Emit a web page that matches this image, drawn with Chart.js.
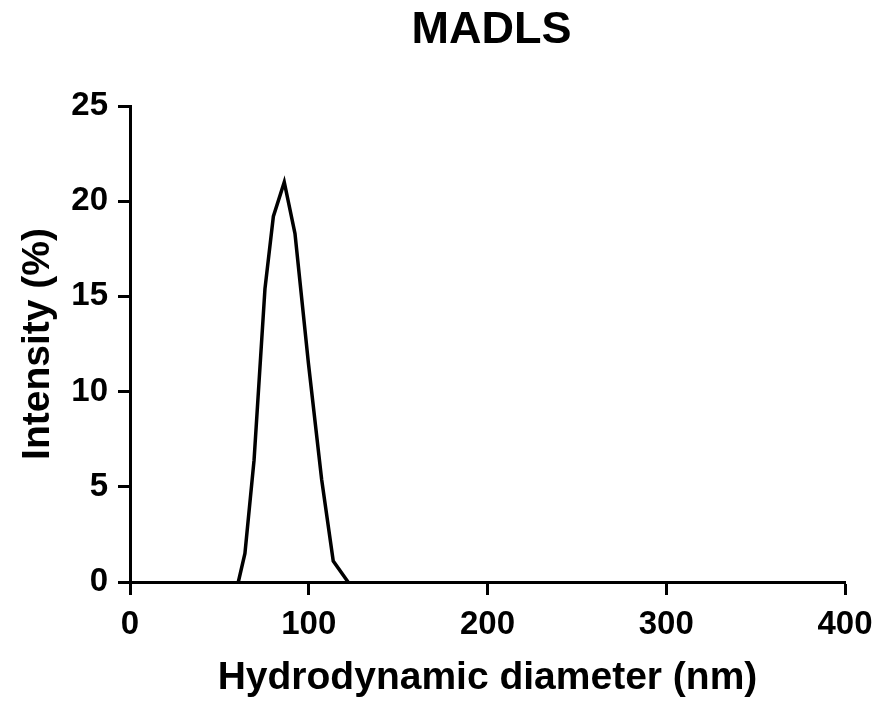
<!DOCTYPE html>
<html>
<head>
<meta charset="utf-8">
<script src="https://cdn.jsdelivr.net/npm/chart.js@4"></script>
<style>
  html, body { margin: 0; padding: 0; background: #fff; }
  #wrap { width: 887px; height: 703px; }
</style>
</head>
<body>
<div id="wrap"><canvas id="madls" width="887" height="703"></canvas></div>
<script>
// Datos
const diameters = [60.6, 64.3, 69.4, 75.5, 80.2, 86.3, 92.3, 99.8, 107.2, 113.7, 122.0];
const intensity = [0, 1.5, 6.4, 15.4, 19.2, 21.0, 18.3, 11.5, 5.4, 1.1, 0];
const xTicks = [0, 100, 200, 300, 400];
const yTicks = [0, 5, 10, 15, 20, 25];

const FONT = '"Liberation Sans", Arial, sans-serif';

// Título dibujado sobre el área del gráfico
const titlePlugin = {
  id: 'madlsTitle',
  afterDraw(chart) {
    const ctx = chart.ctx;
    const area = chart.chartArea;
    ctx.save();
    ctx.fillStyle = '#000';
    ctx.font = 'bold 45px ' + FONT;
    ctx.textAlign = 'center';
    ctx.textBaseline = 'alphabetic';
    ctx.fillText('MADLS', (area.left + area.right) / 2 + 4, 43);
    ctx.restore();
  }
};

const points = diameters.map((d, i) => ({ x: d, y: intensity[i] }));

new Chart(document.getElementById('madls').getContext('2d'), {
  type: 'scatter',
  data: {
    datasets: [{
      data: points,
      showLine: true,
      borderColor: '#000',
      borderWidth: 3.5,
      pointRadius: 0,
      tension: 0
    }]
  },
  options: {
    responsive: false,
    animation: false,
    devicePixelRatio: 1,
    layout: { padding: { top: 106, right: 42, bottom: 0, left: 0 } },
    plugins: {
      legend: { display: false },
      tooltip: { enabled: false }
    },
    scales: {
      x: {
        type: 'linear',
        min: 0,
        max: 400,
        afterFit(scale) { scale.height = 121; },
        afterBuildTicks(scale) { scale.ticks = xTicks.map(v => ({ value: v })); },
        grid: { drawOnChartArea: false, drawTicks: true, tickLength: 13, tickWidth: 3, tickColor: '#000' },
        border: { display: true, color: '#000', width: 3 },
        ticks: { color: '#000', padding: 10, maxRotation: 0, font: { family: FONT, size: 33, weight: 'bold' } },
        title: {
          display: true,
          text: 'Hydrodynamic diameter (nm)',
          color: '#000',
          padding: { top: 0, bottom: 1 },
          font: { family: FONT, size: 39, weight: 'bold' }
        }
      },
      y: {
        type: 'linear',
        min: 0,
        max: 25,
        afterFit(scale) { scale.width = 130; },
        afterBuildTicks(scale) { scale.ticks = yTicks.map(v => ({ value: v })); },
        grid: { drawOnChartArea: false, drawTicks: true, tickLength: 12, tickWidth: 3, tickColor: '#000' },
        border: { display: true, color: '#000', width: 3 },
        ticks: { color: '#000', padding: 10, font: { family: FONT, size: 33, weight: 'bold' } },
        title: {
          display: true,
          text: 'Intensity (%)',
          color: '#000',
          padding: { top: 15, bottom: 0 },
          font: { family: FONT, size: 39, weight: 'bold' }
        }
      }
    }
  },
  plugins: [titlePlugin]
});
</script>
</body>
</html>
